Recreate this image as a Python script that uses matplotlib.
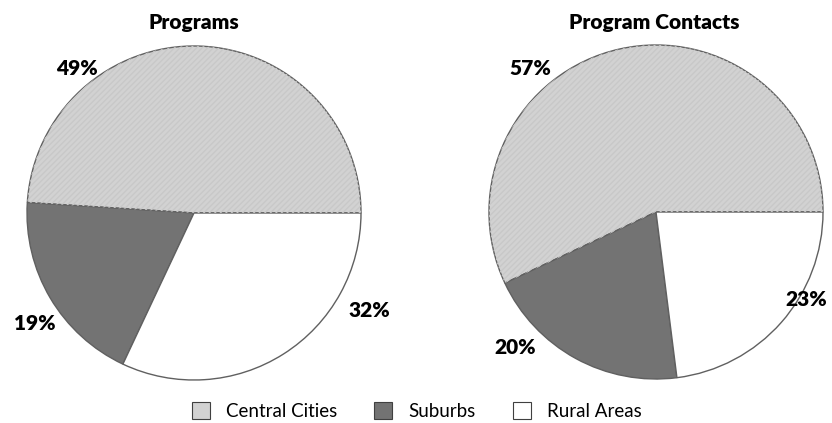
import matplotlib.pyplot as plt
import matplotlib.patches as patches

categories = ['Central Cities', 'Suburbs', 'Rural Areas']
programs = [49, 19, 32]
contacts = [57, 20, 23]
titles = ['Programs', 'Program Contacts']

colors = ['#d2d2d2', '#737373', '#ffffff']
edge = '#606060'
font = ['Lato', 'DejaVu Sans']

fig = plt.figure(figsize=(8.32, 4.23), dpi=100)
ax = fig.add_axes([0, 0, 1, 1])

H = 423
pies = [
    (programs, (194, H - 213), 167),
    (contacts, (656, H - 212), 167),
]
for values, center, r in pies:
    wedges, _ = ax.pie(values, colors=colors, startangle=0, counterclock=True,
                       center=center, radius=r, frame=True,
                       wedgeprops=dict(edgecolor=edge, linewidth=1.0))
    # faint texture on the central cities slice
    w = wedges[0]
    ax.add_patch(patches.Wedge(w.center, w.r, w.theta1, w.theta2, fill=False,
                               hatch='//////', edgecolor='#c8c8c8', linewidth=0))

ax.set_xlim(0, 832)
ax.set_ylim(0, 423)
ax.set_aspect('equal')
ax.axis('off')

# titles
ax.text(194, H - 22, titles[0], ha='center', va='center', fontsize=15,
        fontweight='heavy', family=font)
ax.text(654, H - 22, titles[1], ha='center', va='center', fontsize=15,
        fontweight='heavy', family=font)

# percentage labels
label_pos = [
    [(77, 68), (35, 323), (369, 310)],
    [(530, 68), (515, 347), (806, 299)],
]
for values, positions in zip([programs, contacts], label_pos):
    for v, (x, y) in zip(values, positions):
        ax.text(x, H - y, f'{v}%', ha='center', va='center', fontsize=15,
                fontweight='heavy', family=font)

# legend
handles = [patches.Patch(facecolor=c, edgecolor='#404040', linewidth=0.8,
                         label=lab) for c, lab in zip(colors, categories)]
fig.legend(handles=handles, loc='center', bbox_to_anchor=(0.501, 1 - 411 / H),
           ncol=3, frameon=False, prop={'family': font, 'size': 13.5},
           handlelength=0.96, handleheight=0.96, columnspacing=2.0,
           handletextpad=0.85)

fig.savefig('out.png', dpi=100)
